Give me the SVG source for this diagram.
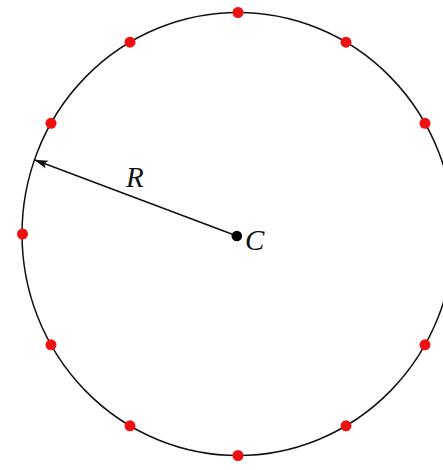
<svg xmlns="http://www.w3.org/2000/svg" width="443" height="470" viewBox="0 0 443 470">
<style>
.ring{fill:none;stroke:#111;stroke-width:1.5}
.pt{fill:#ee1111}
.lbl{font-family:"Liberation Serif",serif;font-style:italic;font-size:29px;fill:#111}
</style>
<defs>
<marker id="ah" markerWidth="14" markerHeight="10" refX="13" refY="5" orient="auto" markerUnits="userSpaceOnUse">
<path d="M0,0.8 L14,5 L0,9.2 L3,5 Z" fill="#111"/>
</marker>
</defs>
<rect width="443" height="470" fill="#fff"/>
<g id="circle"><ellipse class="ring" cx="238" cy="234" rx="216" ry="221.5"/></g>
<g id="points">
<circle class="pt" cx="238" cy="12.5" r="5.5"/>
<circle class="pt" cx="346" cy="42.2" r="5.5"/>
<circle class="pt" cx="425" cy="123.3" r="5.5"/>
<circle class="pt" cx="425" cy="344.8" r="5.5"/>
<circle class="pt" cx="346" cy="425.8" r="5.5"/>
<circle class="pt" cx="238" cy="455.5" r="5.5"/>
<circle class="pt" cx="130" cy="425.8" r="5.5"/>
<circle class="pt" cx="51" cy="344.8" r="5.5"/>
<circle class="pt" cx="22.5" cy="234" r="5.5"/>
<circle class="pt" cx="51" cy="123.3" r="5.5"/>
<circle class="pt" cx="130" cy="42.2" r="5.5"/>
</g>
<g id="connectors">
<line x1="237" y1="236" x2="35" y2="160" stroke="#111" stroke-width="1.5" marker-end="url(#ah)"/>
</g>
<g id="center"><circle cx="236.8" cy="236" r="5.3" fill="#000"/><text class="lbl" x="245" y="250">C</text></g>
<g id="radius-label"><text class="lbl" x="126" y="187">R</text></g>
</svg>
